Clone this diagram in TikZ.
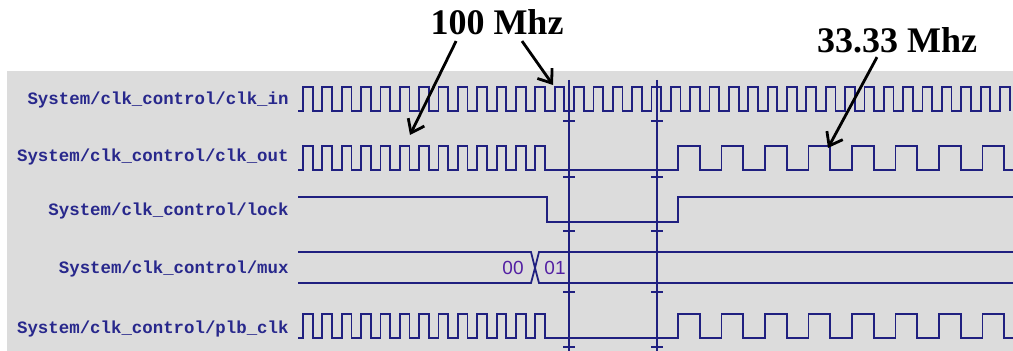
\documentclass[tikz,border=0pt]{standalone}
\usepackage{fontspec}
\setmainfont{Liberation Serif}
\setmonofont{Liberation Mono}
\setsansfont{Liberation Sans}
\usetikzlibrary{arrows.meta,positioning}
\definecolor{wavenavy}{RGB}{32,32,128}
\definecolor{labelnavy}{RGB}{40,40,140}
\definecolor{panelgray}{RGB}{220,220,220}

\begin{document}
\begin{tikzpicture}[x=0.5pt,y=-0.5pt,
  wave/.style={draw=wavenavy,line width=0.9pt,line join=miter},
  cursor/.style={draw=wavenavy,line width=1pt},
  sig/.style={anchor=east,inner sep=0pt,text=labelnavy,font=\ttfamily\bfseries\fontsize{8.7}{10}\selectfont},
  busval/.style={inner sep=0pt,text=labelnavy!80!magenta,font=\sffamily\fontsize{9.5}{10}\selectfont},
  freq/.style={inner sep=1pt,font=\bfseries\fontsize{18}{20}\selectfont},
  arr/.style={-{Straight Barb[length=6pt,width=9pt]},line width=1.4pt}]

   \useasboundingbox (0,0) rectangle (1013,351);
   \fill[panelgray] (7,71) rectangle (1013,351);

   \node[sig] (clkin) at (289,100) {System/clk\_control/clk\_in};
   \node[sig] (clkout) at (289,157) {System/clk\_control/clk\_out};
   \node[sig] (lock) at (289,211) {System/clk\_control/lock};
   \node[sig] (mux) at (289,269) {System/clk\_control/mux};
   \node[sig] (plbclk) at (289,329) {System/clk\_control/plb\_clk};

   \begin{scope}
   \clip (7,71) rectangle (1013,351);
   \draw[wave] (298,111) foreach \k in {0,...,36} { -- ({303+\k*19.36},111) -- ++(0,-24) -- ++(9.68,0) -- ++(0,24) };
   \foreach \y in {170,338}
      \draw[wave] (298,\y) foreach \k in {0,...,12} { -- ({303+\k*19.36},\y) -- ++(0,-24) -- ++(9.68,0) -- ++(0,24) }
         -- (678,\y) foreach \k in {0,...,7} { -- ({678+\k*43.5},\y) -- ++(0,-24) -- ++(21.75,0) -- ++(0,24) } -- (1013,\y);
   \draw[wave] (298,197) -- (547,197) -- (547,222) -- (678,222) -- (678,197) -- (1013,197);
   \draw[wave] (298,252) -- (531,252) -- (535,268) -- (531,283) -- (298,283);
   \draw[wave] (1013,252) -- (539,252) -- (535,268) -- (539,283) -- (1013,283);
   \end{scope}

   \node[busval] (v00) at (513,268) {00};
   \node[busval] (v01) at (555,268) {01};

   \foreach \cx in {569,657} {
      \draw[cursor] (\cx,80) -- (\cx,351);
      \foreach \ty in {121,177,231,292,347}
         \draw[cursor] (\cx-6,\ty) -- (\cx+6,\ty);
   }

   \node[freq] (f100) at (497,22) {100 Mhz};
   \node[freq] (f33) at (897,40) {33.33 Mhz};
   \coordinate (t1) at (410,135);
   \coordinate (t2) at (553,85);
   \coordinate (t3) at (828,148);

   \path[arr] ([xshift=14pt,yshift=-2pt]f100.south west) edge (t1);
   \path[arr] ([xshift=12.5pt,yshift=-2pt]f100.south) edge (t2);
   \path[arr] ([xshift=-10pt,yshift=-1pt]f33.south) edge (t3);

\end{tikzpicture}
\end{document}
